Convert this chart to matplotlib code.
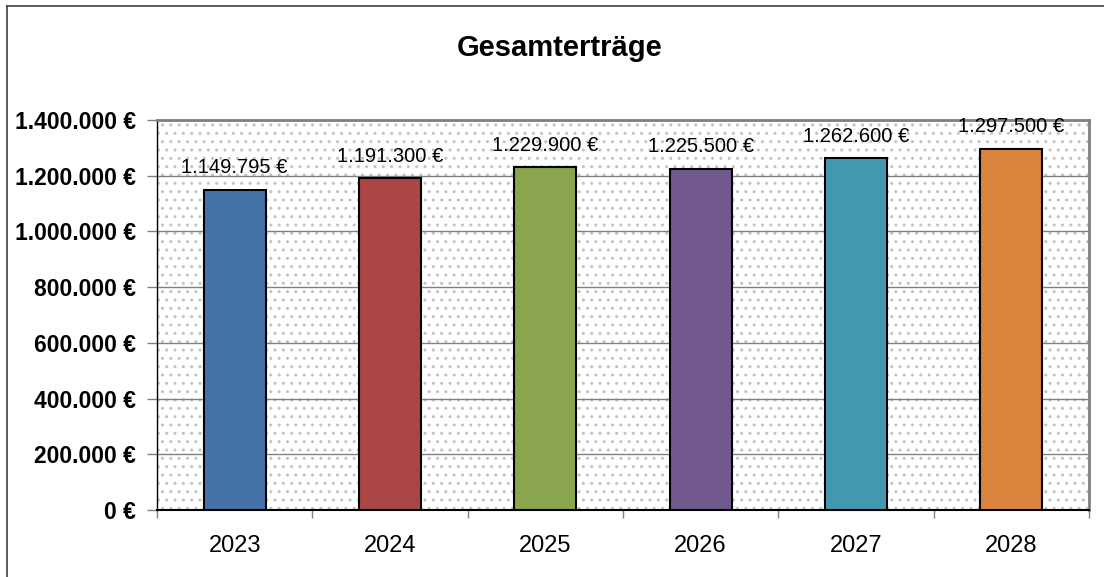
import numpy as np
import matplotlib.pyplot as plt
from matplotlib.patches import Rectangle
from matplotlib.lines import Line2D
from matplotlib.ticker import FuncFormatter, FixedLocator

plt.rcParams['font.family'] = ['Liberation Sans', 'DejaVu Sans']
plt.rcParams['hatch.linewidth'] = 1.0

# data
years = ['2023', '2024', '2025', '2026', '2027', '2028']
values = [1149795, 1191300, 1229900, 1225500, 1262600, 1297500]
colors = ['#4572A7', '#AA4643', '#89A54E', '#71588F', '#4198AF', '#DB843D']
title = 'Gesamterträge'


def euro(v):
    # German thousands separator
    return '{:,.0f} €'.format(v).replace(',', '.')


fig = plt.figure(figsize=(11.04, 5.77), dpi=100)
ax = fig.add_axes([0.1422, 0.1161, 0.8442, 0.6759])

# frame around the whole chart (only left and top visible in the reference)
fig.add_artist(Line2D([0.0065, 0.0065], [0.0, 0.9896], color='#404040', lw=1.2,
                      transform=fig.transFigure))
fig.add_artist(Line2D([0.0065, 1.0], [0.9896, 0.9896], color='#404040', lw=1.2,
                      transform=fig.transFigure))

# dotted plot area background
ax.set_facecolor('white')
bg = Rectangle((0, 0), 1, 1, transform=ax.transAxes, facecolor='white',
               edgecolor='#c2c2c2', hatch='..', lw=0, zorder=0)
ax.add_patch(bg)

x = np.arange(len(years))
ax.bar(x, values, width=0.4, color=colors, edgecolor='black', linewidth=1.5, zorder=3)

for xi, v in zip(x, values):
    ax.annotate(euro(v), (xi, v), xytext=(0, 9), textcoords='offset points',
                ha='center', va='bottom', fontsize=14.5, zorder=4)

ax.set_xlim(-0.5, len(years) - 0.5)
ax.set_ylim(0, 1400000)
ax.set_yticks(np.arange(0, 1400001, 200000))
ax.yaxis.set_major_formatter(FuncFormatter(lambda v, p: euro(v)))
ax.yaxis.grid(True, color='#808080', lw=1.0, zorder=1)
ax.set_axisbelow(True)

ax.set_xticks(x)
ax.set_xticklabels(years)
ax.xaxis.set_minor_locator(FixedLocator(np.arange(-0.5, len(years), 1.0)))
ax.tick_params(axis='x', which='major', length=0, pad=18, labelsize=17)
ax.tick_params(axis='x', which='minor', length=6, width=1, color='#808080', direction='out')
ax.tick_params(axis='y', length=7, width=1, color='#808080', direction='out',
               labelsize=16.5, pad=8)
for lab in ax.get_yticklabels():
    lab.set_fontweight('bold')

ax.spines['left'].set_color('black')
ax.spines['bottom'].set_color('black')
ax.spines['left'].set_linewidth(1.0)
ax.spines['bottom'].set_linewidth(1.5)
ax.spines['top'].set_color('#808080')
ax.spines['right'].set_color('#808080')
ax.spines['top'].set_linewidth(2)
ax.spines['right'].set_linewidth(2)

fig.text(0.507, 0.917, title, ha='center', va='center', fontsize=21, fontweight='bold')

fig.savefig('out.png', dpi=100)
